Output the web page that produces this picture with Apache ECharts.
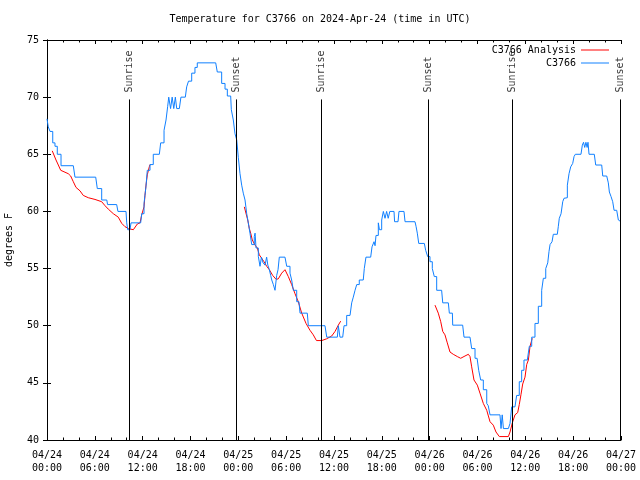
<!DOCTYPE html>
<html><head><meta charset="utf-8">
<script src="https://cdn.jsdelivr.net/npm/echarts@6/dist/echarts.min.js"></script>
<style>html,body{margin:0;padding:0;background:#fff}#c{width:640px;height:480px}</style>
</head><body><div id="c"></div>
<script>
// hours since 2024-04-24 00:00 UTC
const dayLabels = ['04/24','04/25','04/26','04/27'];
const titleText = 'Temperature for C3766 on 2024-Apr-24 (time in UTC)';

// Observations (C3766), [hour, degF]
const obsData = [
[0,68.1],[0.16,67.4],[0.38,67.0],[0.72,66.0],[1.0,65.7],[1.29,65.0],[1.76,64.0],[3.30,64.0],[3.51,63.0],
[6.11,63.0],[6.31,62.0],[6.86,61.0],[7.5,61.0],[7.6,60.6],[8.74,60.6],[8.9,60.0],[9.91,60.0],[10.0,59.0],
[10.12,58.4],[10.41,58.4],[10.54,59.0],[11.75,59.0],[11.88,59.8],[12.17,60.7],[12.42,62.2],[12.58,63.6],
[12.92,64.1],[13.33,65.0],[14.09,65.0],[14.26,66.0],[14.68,67.1],[14.93,68.0],[15.14,69.2],[15.27,70.0],
[15.5,69.0],[15.7,70.0],[15.9,69.0],[16.1,70.0],[16.27,69.0],[16.6,69.0],[16.8,70.0],[17.35,70.0],
[17.52,70.9],[17.75,71.4],[18.15,72.1],[18.56,72.6],[18.85,73.0],[21.16,73.0],[21.36,72.2],[21.91,71.2],
[22.33,70.7],[22.62,70.1],[23.04,70.0],[23.12,68.9],[23.37,68.0],[23.58,66.8],[23.80,66.25],[24.0,64.7],
[24.21,63.3],[24.42,62.3],[24.62,61.6],[24.84,61.0],[25.05,59.8],[25.25,59.0],[25.46,58.1],[25.68,57.1],
[25.9,57.1],[26.0,57.8],[26.1,58.1],[26.22,56.8],[26.51,56.05],[26.72,55.2],[26.9,56.0],[27.1,55.5],
[27.35,55.3],[27.55,56.0],[27.7,55.3],[27.89,54.9],[28.06,54.4],[28.19,54.0],[28.39,53.6],[28.60,53.1],
[28.81,54.4],[28.98,54.9],[29.14,56.0],[29.85,56.0],[30.07,55.2],[30.3,55.2],[30.48,54.6],[30.69,54.0],
[30.90,53.1],[31.1,53.1],[31.32,52.1],[31.6,52.1],[31.74,51.1],[32.65,51.1],[32.78,50.0],[34.24,50.0],
[34.87,49.9],[35.09,49.0],[36.42,49.0],[36.54,50.0],[36.75,49.0],[37.09,49.0],[37.26,50.0],[37.5,50.0],
[37.59,50.9],[38.01,50.9],[38.22,52.0],[38.42,52.5],[38.64,53.1],[38.85,53.6],[39.17,54.0],[39.67,54.0],
[39.80,55.0],[40.01,56.0],[40.60,56.0],[40.77,56.9],[41.02,57.35],[41.15,57.0],[41.27,57.9],[41.56,59.0],
[41.7,58.4],[41.98,59.25],[42.19,60.0],[42.4,59.4],[42.6,60.0],[42.8,59.4],[43.0,60.0],[43.53,60.0],
[43.6,59.1],[44.03,59.1],[44.15,60.0],[44.78,60.0],[44.91,59.1],[46.16,59.1],[46.29,58.7],[46.45,58.1],
[46.63,57.2],[47.33,57.2],[47.50,56.6],[47.75,56.05],[48.04,55.6],[48.33,55.0],[48.58,54.3],[48.88,53.1],
[49.5,53.1],[49.64,52.0],[50.34,52.0],[50.47,51.1],[50.85,51.0],[50.89,50.05],[52.14,50.05],[52.31,49.0],
[53.06,49.0],[53.27,48.0],[53.69,47.15],[53.95,47.1],[54.15,46.1],[54.40,45.25],[54.73,44.4],[55.16,43.2],
[55.35,43.0],[55.57,42.2],[56.82,42.2],[56.95,41.0],[57.1,42.2],[57.25,41.0],[57.45,41.0],[57.87,41.0],
[58.08,41.45],[58.29,42.9],[58.70,42.9],[58.91,43.9],[59.24,45.1],[59.54,46.1],[59.83,47.0],[60.25,47.0],
[60.50,48.2],[60.80,49.0],[61.21,50.2],[61.63,51.7],[62.05,53.1],[62.26,54.15],[62.56,55.0],[62.81,55.5],
[62.97,56.5],[63.10,57.1],[63.35,57.35],[63.51,58.0],[64.01,58.0],[64.14,58.7],[64.26,59.4],[64.48,59.8],
[64.69,60.85],[64.85,61.15],[65.1,61.2],[65.27,62.3],[65.48,63.3],[65.69,63.9],[65.94,64.2],[66.11,64.8],
[66.27,65.0],[66.98,65.0],[67.15,65.8],[67.3,66.05],[67.45,65.6],[67.6,66.05],[67.75,65.6],[67.86,66.05],
[67.99,65.0],[68.65,65.0],[68.83,64.06],[69.58,64.06],[69.71,63.1],[70.21,63.1],[70.41,62.5],[70.54,61.7],
[70.75,61.3],[70.96,60.85],[71.13,60.1],[71.46,60.0],[71.67,59.25],[71.88,59.1],[72.0,59.1]
];

// Analysis (C3766 Analysis), three segments
const analysisSeg1 = [
[0.66,65.3],[1.13,64.5],[1.42,64.06],[1.72,63.6],[2.67,63.3],[2.97,63.1],[3.30,62.6],[3.64,62.1],
[4.14,61.8],[4.55,61.4],[5.18,61.2],[6.02,61.05],[6.86,60.85],[7.28,60.5],[7.69,60.2],[8.32,59.8],
[8.94,59.5],[9.37,58.96],[9.78,58.67],[10.2,58.5],[10.83,58.4],[11.33,58.9],[11.67,59.0],[11.88,59.7],
[12.17,60.4],[12.29,61.4],[12.42,62.3],[12.58,63.2],[12.83,63.9],[12.92,64.1]
];
const analysisSeg2 = [
[24.75,60.4],[24.96,60.3],[25.18,59.25],[25.38,58.5],[25.55,58.1],[25.75,57.5],[26.09,57.06],[26.38,56.8],
[26.63,56.2],[26.93,55.9],[27.22,55.6],[27.56,55.2],[27.89,54.9],[28.31,54.4],[28.73,54.06],[29.01,54.1],
[29.44,54.6],[29.85,54.9],[30.27,54.3],[30.69,53.6],[31.11,52.8],[31.52,52.1],[31.95,51.1],[32.49,50.2],
[32.99,49.6],[33.40,49.2],[33.80,48.7],[34.46,48.7],[35.06,48.85],[35.71,49.1],[36.13,49.5],[36.54,50.05],
[36.84,50.4]
];
const analysisSeg3 = [
[48.67,51.8],[48.92,51.8],[49.08,51.1],[49.39,50.35],[49.64,49.5],[49.92,49.2],[50.21,48.5],[50.55,47.7],
[50.96,47.5],[51.47,47.3],[51.89,47.15],[52.43,47.35],[52.85,47.5],[53.06,47.3],[53.27,46.4],[53.56,45.25],
[53.98,44.8],[54.31,44.1],[54.73,43.2],[55.16,42.6],[55.57,41.6],[55.98,41.3],[56.32,40.7],[56.74,40.3],
[57.87,40.3],[58.08,40.7],[58.37,41.5],[58.70,42.2],[59.04,42.4],[59.24,43.1],[59.46,44.0],[59.67,44.9],
[59.96,45.5],[60.17,46.6],[60.38,47.0],[60.59,48.2],[60.87,48.9]
];

// Sunrise / sunset events
const sunEventHours = [10.32, 23.80, 34.38, 47.84, 58.35, 71.88];
const sunEventNames = ['Sunrise','Sunset','Sunrise','Sunset','Sunrise','Sunset'];

const analysisData = analysisSeg1.concat([[18, null]], analysisSeg2, [[42, null]], analysisSeg3);

const FONT = 'DejaVu Sans Mono';
const lineTop = 69.8, labelBase = 70.4;

const chart = echarts.init(document.getElementById('c'), null, {renderer:'canvas'});
const axisCommon = {
  type:'value', min:0, max:72, interval:6,
  axisLine:{show:true, lineStyle:{color:'#000', width:1}},
  axisTick:{show:true, inside:true, length:4, lineStyle:{color:'#000'}},
  minorTick:{show:true, splitNumber:3, length:2.5, lineStyle:{color:'#000'}},
  splitLine:{show:false}
};
const yCommon = {
  type:'value', min:40, max:75, interval:5,
  axisLine:{show:true, lineStyle:{color:'#000', width:1}},
  axisTick:{show:true, inside:true, length:4, lineStyle:{color:'#000'}},
  splitLine:{show:false}
};
const legendCommon = {right:31, padding:0, align:'right', itemWidth:28, itemHeight:1, icon:'rect',
  textStyle:{fontFamily:FONT, fontSize:10, color:'#000'}};
chart.setOption({
  animation:false,
  backgroundColor:'#fff',
  textStyle:{fontFamily:FONT},
  title:{text:titleText, left:'center', top:14, padding:0,
    textStyle:{fontFamily:FONT, fontSize:10, fontWeight:'normal', color:'#000'}},
  grid:{left:47, right:19, top:40, bottom:40, containLabel:false, outerBoundsMode:'none'},
  legend:[
    Object.assign({data:['C3766 Analysis'], top:45}, legendCommon),
    Object.assign({data:['C3766'], top:58}, legendCommon)
  ],
  xAxis:[
    Object.assign({}, axisCommon, {position:'bottom',
      axisLabel:{show:true, margin:9, fontFamily:FONT, fontSize:10, color:'#000', lineHeight:13,
        showMinLabel:true, showMaxLabel:true,
        formatter:function(v){const d=Math.floor(v/24+1e-6); const hh=Math.round(v-d*24);
          return dayLabels[d]+'\n'+String(hh).padStart(2,'0')+':00';}}}),
    Object.assign({}, axisCommon, {position:'top', axisLabel:{show:false}})
  ],
  yAxis:[
    Object.assign({}, yCommon, {position:'left', name:'degrees F', nameLocation:'middle', nameGap:33,
      nameRotate:90, nameTextStyle:{fontFamily:FONT, fontSize:10, color:'#000'},
      axisLabel:{show:true, margin:8, fontFamily:FONT, fontSize:10, color:'#000'}}),
    Object.assign({}, yCommon, {position:'right', axisLabel:{show:false}})
  ],
  series:[
    {name:'sun', type:'line', data:[], silent:true,
     markLine:{silent:true, symbol:['none','none'], animation:false, label:{show:false},
       lineStyle:{color:'#000', width:1, type:'solid'},
       data: sunEventHours.map(h=>[{coord:[h, lineTop]},{coord:[h, 40]}])}},
    {name:'sunLabels', type:'scatter', symbolSize:0, silent:true,
     data: sunEventHours.map((h,i)=>[h, labelBase, sunEventNames[i]]),
     label:{show:true, formatter:p=>p.data[2], rotate:90, position:[0,0], align:'left', verticalAlign:'middle',
       fontFamily:FONT, fontSize:10, color:'#000'}},
    {name:'C3766 Analysis', type:'line', data:analysisData, connectNulls:false, symbol:'none',
     lineStyle:{color:'#ff0000', width:1}, itemStyle:{color:'#ff0000'}},
    {name:'C3766', type:'line', step:'end', data:obsData, symbol:'none',
     lineStyle:{color:'#1080ff', width:1}, itemStyle:{color:'#1080ff'}}
  ]
});
</script></body></html>
